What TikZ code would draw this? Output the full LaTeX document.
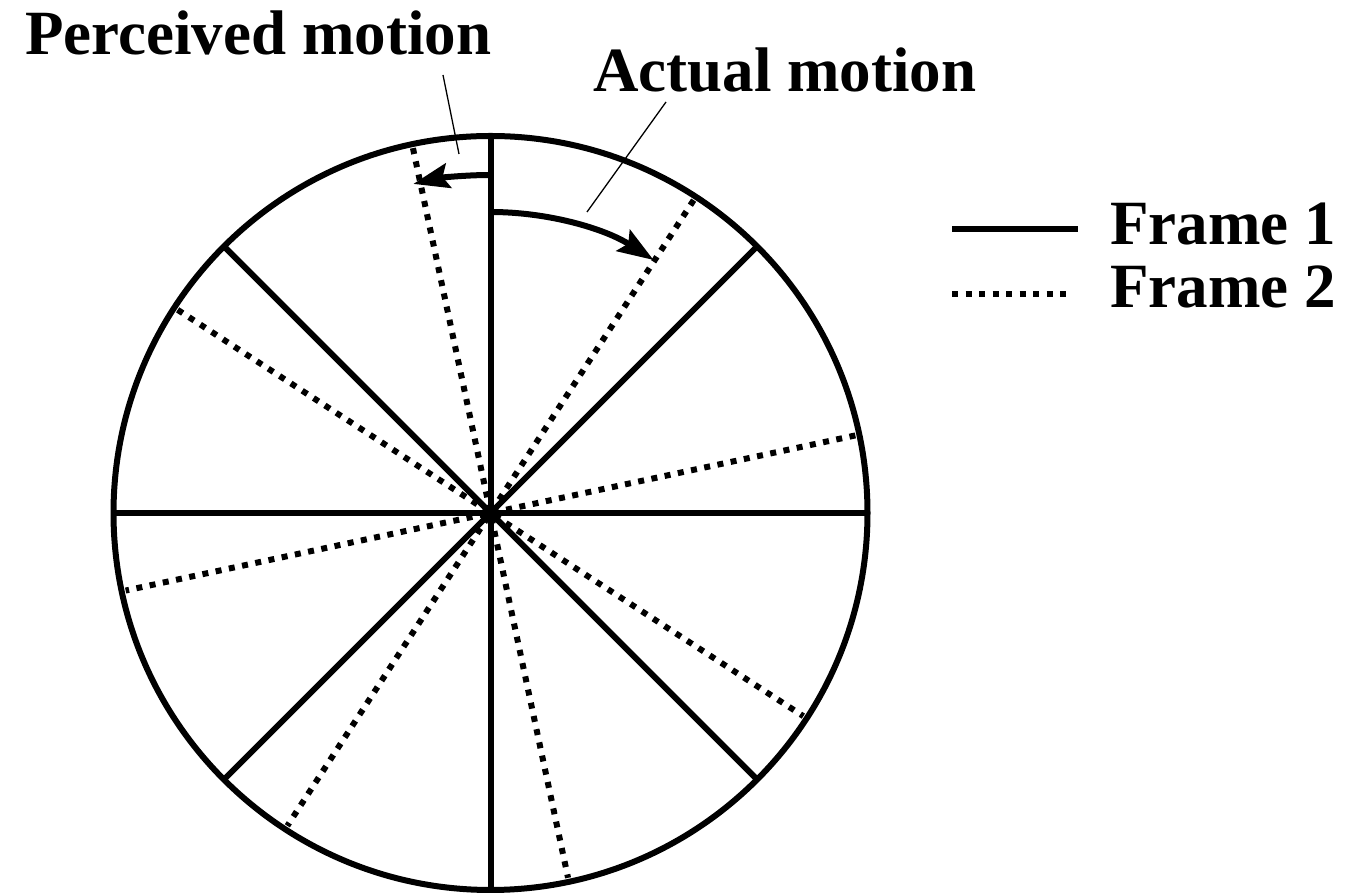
\documentclass[tikz,border=0pt]{standalone}
\usepackage{fontspec}
\setmainfont{Liberation Serif}
\usetikzlibrary{arrows.meta}
\tikzset{
  spoke/.style={line width=6pt},
  dotspoke/.style={line width=6pt, dash pattern=on 6pt off 7.5pt},
  leader/.style={line width=1.3pt},
  motionarrow/.style={line width=6pt, -{Stealth[length=36pt,width=25pt,inset=6pt]}},
  lbl/.style={inner sep=0pt, anchor=base west, font=\fontsize{63}{70}\selectfont\bfseries},
}
\begin{document}
\begin{tikzpicture}[x=1pt,y=1pt]
\useasboundingbox (0,0) rectangle (1345,896);
\coordinate (c) at (490.5,383);
% circle
\draw[spoke] (c) circle[radius=377];
% solid spokes (frame 1)
\foreach \a in {0,45,90,135} {
  \draw[spoke] ([shift={(\a:377)}]c) -- ([shift={(\a+180:377)}]c);
}
% dotted spokes (frame 2)
\foreach \a in {12,57,102,147} {
  \draw[dotspoke] ([shift={(\a:373)}]c) -- ([shift={(\a+180:373)}]c);
}
% arrows
\draw[motionarrow] ([shift={(90:301)}]c) arc[start angle=90, end angle=57.2, radius=301];
\draw[motionarrow] ([shift={(90:338)}]c) arc[start angle=90, end angle=103.2, radius=338];
% labels
\node[lbl] (perc) at (25,841) {Perceived motion};
\node[lbl] (act) at (593,804) {Actual motion};
\coordinate (pl1) at (443,821);
\coordinate (pl2) at (459,742);
\coordinate (al1) at (666,794);
\coordinate (al2) at (587,684);
\draw[leader] (pl1) -- (pl2);
\draw[leader] (al1) -- (al2);
% legend
\coordinate (l1a) at (952,667);
\coordinate (l1b) at (1078,667);
\coordinate (l2a) at (952,602);
\coordinate (l2b) at (1072,602);
\draw[spoke] (l1a) -- (l1b);
\draw[dotspoke] (l2a) -- (l2b);
\node[lbl] (f1) at (1110,651) {Frame 1};
\node[lbl] (f2) at (1110,588) {Frame 2};
\end{tikzpicture}
\end{document}
